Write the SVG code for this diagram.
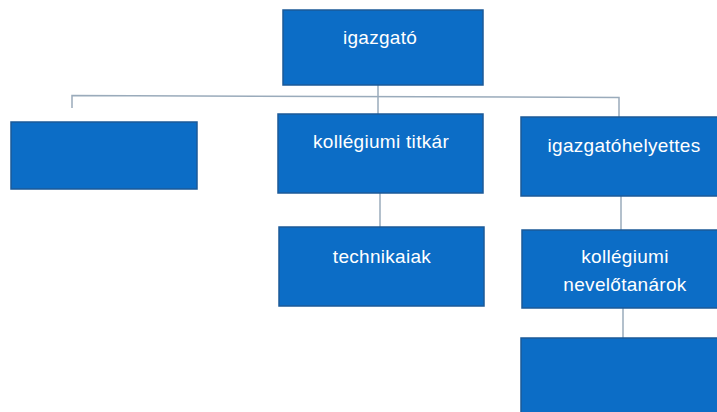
<svg xmlns="http://www.w3.org/2000/svg" width="717" height="412" viewBox="0 0 717 412">
<style>
.box{fill:#0c6dc6;stroke:#1b5a98;stroke-width:1.5}
.t{fill:#fff;font-family:"Liberation Sans",Arial,sans-serif;font-size:19px;letter-spacing:0.3px;text-anchor:middle}
.c{stroke:#9aabbb;stroke-width:1.5;fill:none}
</style>
<rect width="717" height="412" fill="#fff"/>
<g id="connectors">
<path class="c" d="M72,108 V95.5 L619,97.5 V117"/>
<path class="c" d="M378,85 V114"/>
<path class="c" d="M380,193 V228"/>
<path class="c" d="M621,196 V230"/>
<path class="c" d="M623,308 V338"/>
</g>
<g id="igazgato"><rect class="box" x="283" y="10" width="200" height="75"/><text class="t" x="380" y="44">igazgató</text></g>
<g id="empty1"><rect class="box" x="11" y="122" width="186" height="67"/></g>
<g id="titkar"><rect class="box" x="278" y="114" width="205" height="79"/><text class="t" x="381" y="148">kollégiumi titkár</text></g>
<g id="helyettes"><rect class="box" x="521" y="117" width="205" height="79"/><text class="t" x="624" y="152">igazgatóhelyettes</text></g>
<g id="technikaiak"><rect class="box" x="279" y="227" width="205" height="79"/><text class="t" x="382" y="263">technikaiak</text></g>
<g id="nevelotanarok"><rect class="box" x="522" y="230" width="205" height="78"/><text class="t" x="625" y="263">kollégiumi</text><text class="t" x="625" y="291">nevelőtanárok</text></g>
<g id="empty2"><rect class="box" x="521" y="338" width="205" height="80"/></g>
</svg>
